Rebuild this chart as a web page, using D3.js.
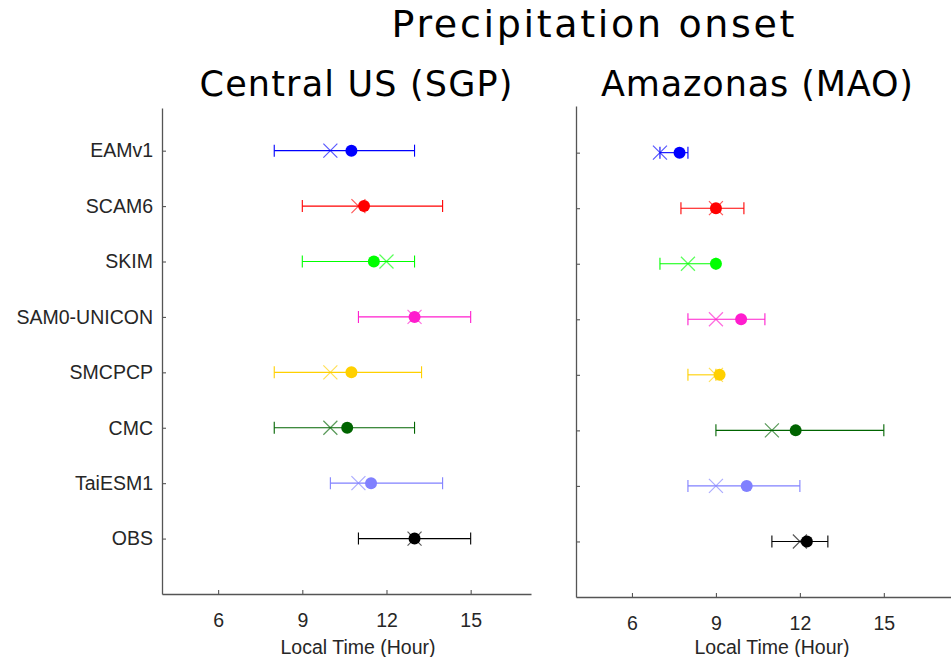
<!DOCTYPE html>
<html>
<head>
<meta charset="utf-8">
<script src="https://cdn.jsdelivr.net/npm/d3@7"></script>
<style>
  body { margin: 0; background: #fff; }
  svg { display: block; }
</style>
</head>
<body>
<script>
// Models, top to bottom
const models = ['EAMv1', 'SCAM6', 'SKIM', 'SAM0-UNICON', 'SMCPCP', 'CMC', 'TaiESM1', 'OBS'];
const colors = ['#0000ff', '#ff0000', '#00ff00', '#ff1dce', '#ffd000', '#006400', '#8080ff', '#000000'];

// Central US (SGP): onset hour, filled dot / cross / error range
const sgpDot   = [10.75, 11.2, 11.55, 13.0, 10.75, 10.6, 11.45, 13.0];
const sgpCross = [10, 11, 12, 13, 10, 10, 11, 13];
const sgpLow   = [8, 9, 9, 11, 8, 8, 10, 11];
const sgpHigh  = [13, 14, 13, 15, 13.25, 13, 14, 15];

// Amazonas (MAO)
const maoDot   = [7.7, 9.0, 9.0, 9.9, 9.13, 11.85, 10.1, 12.25];
const maoCross = [7, 9, 8, 9, 9, 11, 9, 12];
const maoLow   = [7, 7.75, 7, 8, 8, 9, 8, 11];
const maoHigh  = [8, 10, 9, 10.75, 9, 15, 12, 13];

const xTicks = [6, 9, 12, 15];

const svg = d3.select('body').append('svg')
  .attr('width', 951)
  .attr('height', 657);

// Main title
svg.append('text')
  .attr('x', 593).attr('y', 37)
  .attr('text-anchor', 'middle')
  .attr('font-family', 'DejaVu Sans')
  .attr('font-size', 38)
  .attr('textLength', 403).attr('lengthAdjust', 'spacing')
  .text('Precipitation onset');

const panels = [
  { title: 'Central US (SGP)', titleX: 356, titleW: 313, x0: 162, x1: 531, xMax: 17.15,
    top: 108, bottom: 594, yTop: -0.77, labels: true, labelX: 358,
    dot: sgpDot, cross: sgpCross, lo: sgpLow, hi: sgpHigh },
  { title: 'Amazonas (MAO)', titleX: 757, titleW: 312, x0: 576, x1: 951, xMax: 17.4,
    top: 106, bottom: 597, yTop: -0.84, labels: false, labelX: 772,
    dot: maoDot, cross: maoCross, lo: maoLow, hi: maoHigh }
];

panels.forEach(p => {
  const x = d3.scaleLinear().domain([4, p.xMax]).range([p.x0, p.x1]);
  const y = d3.scaleLinear().domain([p.yTop, models.length]).range([p.top, p.bottom]);

  const g = svg.append('g');

  // Subtitle
  svg.append('text')
    .attr('x', p.titleX).attr('y', 96)
    .attr('text-anchor', 'middle')
    .attr('font-family', 'DejaVu Sans')
    .attr('font-size', 35)
    .attr('textLength', p.titleW).attr('lengthAdjust', 'spacing')
    .text(p.title);

  // x axis
  const xAxis = g.append('g')
    .attr('transform', `translate(0,${p.bottom})`)
    .call(d3.axisBottom(x).tickValues(xTicks).tickSizeInner(-4).tickSizeOuter(0).tickPadding(19));

  // y axis
  const yAxis = g.append('g')
    .attr('transform', `translate(${p.x0},0)`)
    .call(d3.axisLeft(y).tickValues(d3.range(models.length))
      .tickFormat(i => p.labels ? models[i] : '')
      .tickSizeInner(-4).tickSizeOuter(0).tickPadding(9));

  [xAxis, yAxis].forEach(a => {
    a.select('.domain').attr('stroke', '#555').attr('stroke-width', 1.3);
    a.selectAll('.tick line').attr('stroke', '#555').attr('stroke-width', 1.1);
    a.selectAll('.tick text')
      .attr('fill', '#262626')
      .attr('font-family', 'Liberation Sans, Arial, sans-serif')
      .attr('font-size', 19.5);
  });

  g.append('text')
    .attr('x', p.labelX).attr('y', 654)
    .attr('text-anchor', 'middle')
    .attr('fill', '#262626')
    .attr('font-family', 'Liberation Sans, Arial, sans-serif')
    .attr('font-size', 19.5)
    .text('Local Time (Hour)');

  // Error bars, markers
  const rows = g.selectAll('g.row')
    .data(models.map((m, i) => i))
    .enter().append('g')
    .attr('class', 'row')
    .attr('stroke', i => colors[i])
    .attr('fill', 'none');

  rows.append('line')
    .attr('x1', i => x(p.lo[i])).attr('x2', i => x(p.hi[i]))
    .attr('y1', i => y(i)).attr('y2', i => y(i))
    .attr('stroke-width', 1.1);

  rows.selectAll('line.cap')
    .data(i => [[i, p.lo[i]], [i, p.hi[i]]])
    .enter().append('line')
    .attr('class', 'cap')
    .attr('x1', d => x(d[1])).attr('x2', d => x(d[1]))
    .attr('y1', d => y(d[0]) - 6).attr('y2', d => y(d[0]) + 6)
    .attr('stroke-width', 1.1);

  rows.append('circle')
    .attr('cx', i => x(p.dot[i]))
    .attr('cy', i => y(i))
    .attr('r', 6)
    .attr('stroke', 'none')
    .attr('fill', i => colors[i]);

  rows.append('path')
    .attr('d', i => {
      const cx = x(p.cross[i]), cy = y(i), s = 7;
      return `M${cx - s},${cy - s}L${cx + s},${cy + s}M${cx - s},${cy + s}L${cx + s},${cy - s}`;
    })
    .attr('stroke-width', 1.2)
    .attr('stroke-opacity', 0.65);
});
</script>
</body>
</html>
